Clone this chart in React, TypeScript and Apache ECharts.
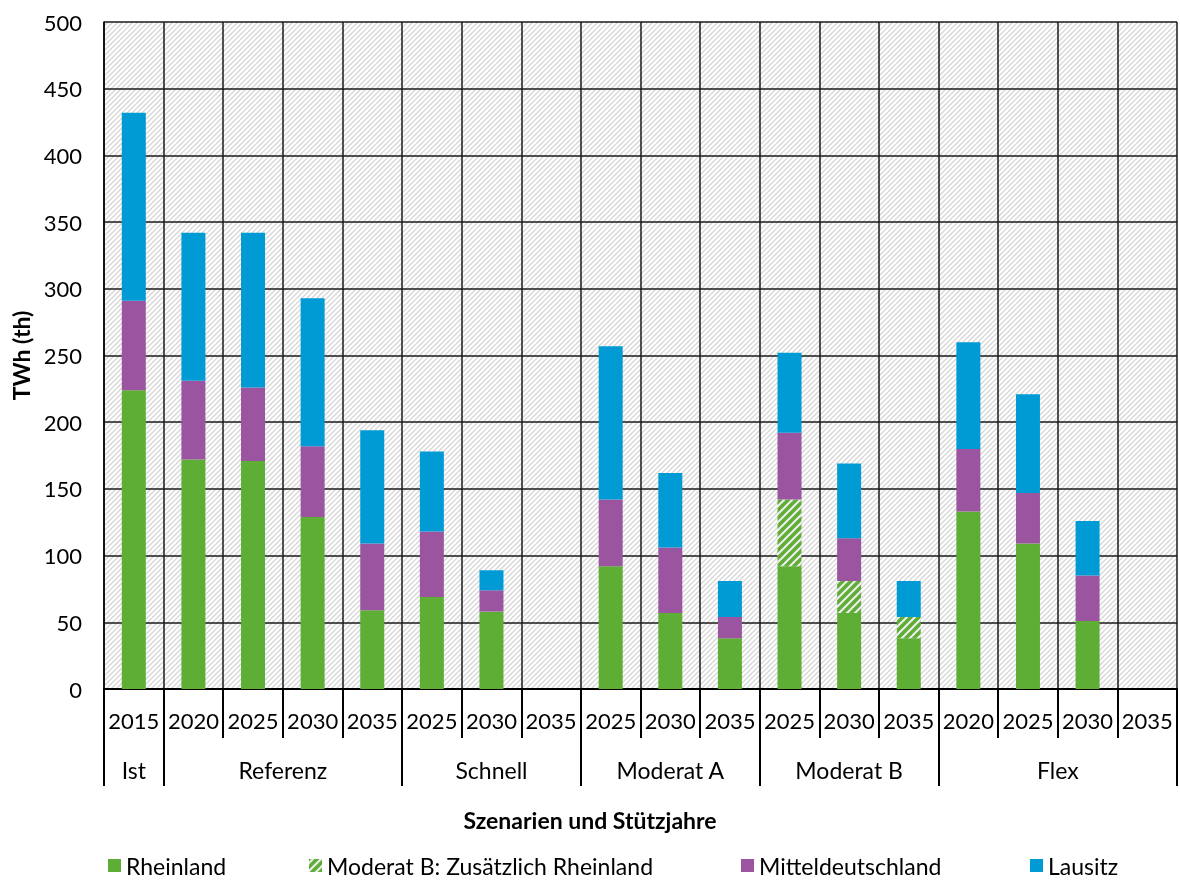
import React, { useEffect, useRef } from 'react';
import * as echarts from 'echarts';

const years = ['2015', '2020', '2025', '2030', '2035', '2025', '2030', '2035', '2025', '2030', '2035', '2025', '2030', '2035', '2020', '2025', '2030', '2035'];
const groupNames = ['Ist', 'Referenz', 'Schnell', 'Moderat A', 'Moderat B', 'Flex'];
const groupSpans = [1, 4, 3, 3, 3, 4];

const rheinland = [224, 172, 171, 129, 59, 69, 58, 0, 92, 57, 38, 92, 57, 38, 133, 109, 51, 0];
const zusatz = [0, 0, 0, 0, 0, 0, 0, 0, 0, 0, 0, 50, 24, 16, 0, 0, 0, 0];
const mittel = [67, 59, 55, 53, 50, 49, 16, 0, 50, 49, 16, 50, 32, 0, 47, 38, 34, 0];
const lausitz = [141, 111, 116, 111, 85, 60, 15, 0, 115, 56, 27, 60, 56, 27, 80, 74, 41, 0];

const yTicks = { min: 0, max: 500, interval: 50 };

const FONT = 'Lato';
const GREEN = '#5EAD35';
const PURPLE = '#9B55A0';
const BLUE = '#009BD5';

function makeHatchMulti(size: number, period: number, bg: string, fg: string, lw: number): string {
  const c = document.createElement('canvas');
  c.width = size;
  c.height = size;
  const ctx = c.getContext('2d')!;
  ctx.fillStyle = bg;
  ctx.fillRect(0, 0, size, size);
  ctx.strokeStyle = fg;
  ctx.lineWidth = lw;
  for (let cc = -size; cc <= 3 * size; cc += period) {
    ctx.beginPath();
    ctx.moveTo(cc + size, -size);
    ctx.lineTo(cc - 2 * size, 2 * size);
    ctx.stroke();
  }
  return c.toDataURL();
}

export default function App() {
  const ref = useRef<HTMLDivElement>(null);

  useEffect(() => {
    if (!ref.current) return;
    const chart = echarts.init(ref.current, null, { renderer: 'svg' });

    const bgImg = makeHatchMulti(10, 5, '#ffffff', '#d6d6d6', 1.3);
    const greenImg = makeHatchMulti(8, 8, '#eeeeee', GREEN, 3.6);
    const bgPattern: any = { image: bgImg, repeat: 'repeat', imageWidth: 10, imageHeight: 10 };
    const greenPattern: any = { image: greenImg, repeat: 'repeat', imageWidth: 8, imageHeight: 8 };

    const groupData: string[] = new Array(37).fill('');
    const boundaries = new Set<number>();
    let start = 0;
    groupNames.forEach((g, i) => {
      boundaries.add(start * 2);
      groupData[start * 2 + groupSpans[i]] = g;
      start += groupSpans[i];
    });
    boundaries.add(start * 2);

    const lineCol = '#1a1a1a';

    const legendBase = {
      top: 854,
      padding: 0,
      itemWidth: 13,
      itemHeight: 13,
      icon: 'rect',
      textStyle: { fontFamily: FONT, fontSize: 23, color: '#000' },
    };

    const option: any = {
      animation: false,
      textStyle: { fontFamily: FONT },
      grid: {
        left: 104,
        right: 1,
        top: 22,
        bottom: 191,
        show: true,
        backgroundColor: bgPattern,
        borderWidth: 0,
      },
      xAxis: [
        {
          type: 'category',
          data: years,
          position: 'bottom',
          axisLine: { show: true, lineStyle: { color: '#000', width: 2 } },
          axisTick: { show: true, interval: 0, length: 49, lineStyle: { color: '#000', width: 2 } },
          axisLabel: { interval: 0, fontFamily: FONT, fontSize: 22, color: '#000', margin: 20 },
          splitLine: { show: true, interval: 0, lineStyle: { color: lineCol, width: 1.5 } },
        },
        {
          type: 'category',
          data: groupData,
          boundaryGap: false,
          position: 'bottom',
          axisLine: { show: false },
          axisTick: {
            show: true,
            length: 97,
            interval: (idx: number) => boundaries.has(idx),
            lineStyle: { color: '#000', width: 2 },
          },
          axisLabel: { interval: 0, fontFamily: FONT, fontSize: 23, color: '#000', margin: 69 },
          splitLine: { show: false },
        },
      ],
      yAxis: {
        type: 'value',
        min: yTicks.min,
        max: yTicks.max,
        interval: yTicks.interval,
        name: 'TWh (th)',
        nameLocation: 'middle',
        nameGap: 71,
        nameTextStyle: { fontFamily: FONT, fontSize: 23, fontWeight: 'bold', color: '#000' },
        axisLine: { show: true, lineStyle: { color: '#000', width: 1.5 } },
        axisTick: { show: false },
        axisLabel: { fontFamily: FONT, fontSize: 22, color: '#000', margin: 22 },
        splitLine: { show: true, lineStyle: { color: lineCol, width: 1.5 } },
      },
      legend: [
        { ...legendBase, left: 108, data: ['Rheinland'] },
        { ...legendBase, left: 309, data: ['Moderat B: Zusätzlich Rheinland'] },
        { ...legendBase, left: 741, data: ['Mitteldeutschland'] },
        { ...legendBase, left: 1030, data: ['Lausitz'] },
      ],
      graphic: [
        {
          type: 'text',
          left: 'center',
          top: 808,
          style: {
            text: 'Szenarien und Stützjahre',
            fontFamily: FONT,
            fontSize: 23,
            fontWeight: 'bold',
            fill: '#000',
          },
        },
      ],
      series: [
        { name: 'Rheinland', type: 'bar', stack: 's', barWidth: 24, data: rheinland, itemStyle: { color: GREEN } },
        { name: 'Moderat B: Zusätzlich Rheinland', type: 'bar', stack: 's', barWidth: 24, data: zusatz, itemStyle: { color: greenPattern } },
        { name: 'Mitteldeutschland', type: 'bar', stack: 's', barWidth: 24, data: mittel, itemStyle: { color: PURPLE } },
        { name: 'Lausitz', type: 'bar', stack: 's', barWidth: 24, data: lausitz, itemStyle: { color: BLUE } },
      ],
    };

    chart.setOption(option);
    return () => chart.dispose();
  }, []);

  return <div ref={ref} style={{ position: 'fixed', left: 0, top: 0, width: 1180, height: 880 }} />;
}
